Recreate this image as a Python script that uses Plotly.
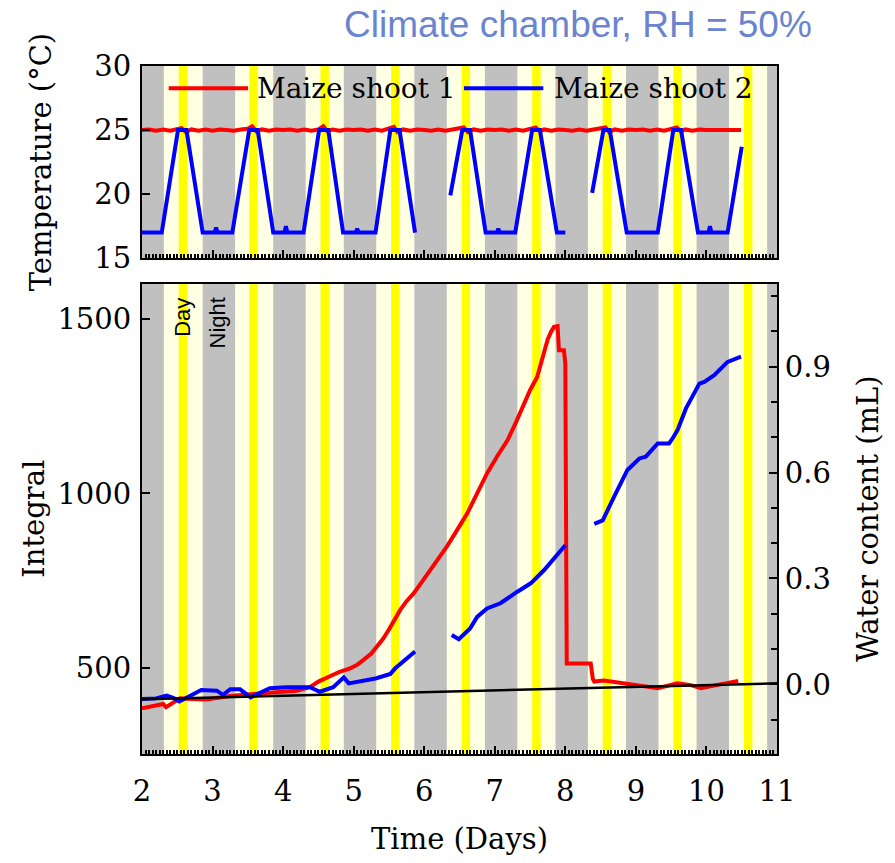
import plotly.graph_objects as go

# ---------------- data ----------------
# Temperature panel (°C)
temp1_x = [2.00, 2.10, 2.20, 2.30, 2.40, 2.50, 2.56, 2.62, 2.70, 2.80, 2.90, 3.00, 3.10, 3.20, 3.30, 3.40, 3.50,
           3.56, 3.62, 3.70, 3.80, 3.90, 4.00, 4.10, 4.20, 4.30, 4.40, 4.50, 4.57, 4.62, 4.70, 4.80, 4.90, 5.00,
           5.10, 5.20, 5.30, 5.40, 5.50, 5.57, 5.62, 5.70, 5.80, 5.90, 6.00, 6.10, 6.20, 6.30, 6.40, 6.50, 6.56,
           6.62, 6.70, 6.80, 6.90, 7.00, 7.10, 7.20, 7.30, 7.40, 7.50, 7.58, 7.64, 7.70, 7.80, 7.90, 8.00, 8.10,
           8.20, 8.30, 8.40, 8.50, 8.57, 8.62, 8.70, 8.80, 8.90, 9.00, 9.10, 9.20, 9.30, 9.40, 9.50, 9.58, 9.64,
           9.70, 9.80, 9.90, 10.00, 10.10, 10.20, 10.30, 10.40, 10.49]
temp1_y = [25.0, 25.05, 24.95, 25.05, 24.95, 25.1, 25.15, 24.85, 25.05, 24.95, 25.05, 24.95, 25.05, 25.0, 24.95,
           25.05, 25.1, 25.3, 24.9, 25.05, 24.95, 25.05, 25.0, 25.05, 24.95, 25.05, 24.95, 25.05, 25.3, 24.95,
           25.05, 24.95, 25.05, 25.0, 25.05, 24.95, 25.05, 24.95, 25.1, 25.25, 24.85, 25.05, 24.95, 25.05, 25.0,
           24.95, 25.05, 24.95, 25.05, 25.1, 25.2, 24.85, 25.05, 24.95, 25.05, 25.0, 25.05, 24.95, 25.05, 24.95,
           25.1, 25.2, 24.9, 25.05, 24.95, 25.05, 25.0, 24.95, 25.05, 24.95, 25.05, 25.1, 25.2, 24.85, 25.05,
           24.95, 25.05, 25.0, 25.05, 24.95, 25.05, 24.95, 25.1, 25.2, 24.9, 25.05, 24.95, 25.05, 25.0, 25.0,
           25.05, 25.0, 25.05, 25.0]

temp2_x = [2.00, 2.28, 2.51, 2.63, 2.86, 3.03, 3.05, 3.07, 3.28, 3.52, 3.64, 3.86, 4.02, 4.04, 4.06, 4.29, 4.51,
           4.64, 4.85, 5.03, 5.05, 5.07, 5.31, 5.52, 5.65, 5.86, 5.87, None, 6.37, 6.54, 6.65, 6.87, 7.03, 7.05,
           7.07, 7.29, 7.53, 7.64, 7.88, 8.00, None, 8.38, 8.54, 8.63, 8.87, 9.31, 9.53, 9.64, 9.88, 10.03, 10.05,
           10.07, 10.30, 10.50]
temp2_y = [17.0, 17.0, 25.0, 25.0, 17.0, 17.0, 17.4, 17.0, 17.0, 25.0, 25.0, 17.0, 17.0, 17.5, 17.0, 17.0, 25.0,
           25.0, 17.0, 17.0, 17.3, 17.0, 17.0, 25.0, 25.0, 17.2, 17.0, None, 19.9, 25.0, 25.0, 17.0, 17.0, 17.3,
           17.0, 17.0, 25.0, 25.0, 17.0, 17.0, None, 20.1, 25.0, 25.0, 17.0, 17.0, 25.0, 25.0, 17.0, 17.0, 17.5,
           17.0, 17.0, 23.7]

# Integral panel
int1_x = [2.00, 2.30, 2.34, 2.54, 2.91, 3.25, 3.72, 4.19, 4.38, 4.50, 4.67, 4.80, 4.95, 5.05, 5.14, 5.25, 5.33,
          5.42, 5.50, 5.58, 5.66, 5.75, 5.85, 5.97, 6.09, 6.20, 6.32, 6.45, 6.61, 6.75, 6.89, 7.03, 7.18, 7.30,
          7.41, 7.50, 7.60, 7.66, 7.70, 7.75, 7.80, 7.84, 7.89, 7.91, 7.98, 8.00, 8.02, 8.36, 8.39, 8.41, 8.55,
          8.83, 9.31, 9.59, 9.78, 9.92, 10.16, 10.45]
int1_y = [386, 398, 389, 414, 411, 421, 429, 436, 446, 462, 478, 490, 500, 510, 524, 542, 562,
          585, 611, 640, 667, 692, 714, 748, 781, 812, 848, 890, 943, 1000, 1057, 1105, 1152, 1203,
          1257, 1295, 1333, 1375, 1409, 1440, 1463, 1476, 1478, 1409, 1409, 1371, 514, 514, 470, 462, 465,
          457, 443, 457, 452, 443, 452, 464]

int2_x = [2.00, 2.20, 2.35, 2.45, 2.53, 2.65, 2.84, 3.06, 3.15, 3.25, 3.39, 3.54, 3.81, 4.05, 4.38, 4.52, 4.71,
          4.86, 4.93, 5.31, 5.52, 5.59, 5.87, None, 6.39, 6.49, 6.65, 6.75, 6.89, 7.08, 7.32, 7.51, 7.70, 7.86,
          8.00, None, 8.41, 8.53, 8.69, 8.88, 9.05, 9.14, 9.31, 9.47, 9.52, 9.59, 9.71, 9.90, 9.97, 10.11, 10.30,
          10.49]
int2_y = [412, 414, 422, 415, 405, 419, 438, 436, 424, 440, 440, 417, 443, 446, 446, 433, 446,
          474, 457, 471, 484, 500, 548, None, 595, 583, 614, 647, 671, 686, 719, 743, 781, 819,
          852, None, 913, 923, 990, 1067, 1100, 1105, 1143, 1143, 1157, 1181, 1243, 1314, 1319, 1338, 1376,
          1391]

# Baseline (water content axis)
base_x = [2.0, 11.0]
base_y = [-0.042, 0.003]

# Light schedule (days)
night_start = [2.00, 2.86, 3.86, 4.86, 5.86, 6.86, 7.86, 8.86, 9.86, 10.86]
night_end = [2.31, 3.32, 4.32, 5.32, 6.32, 7.32, 8.32, 9.32, 10.32, 11.00]
peak_start = [2.52, 3.52, 4.53, 5.53, 6.53, 7.53, 8.53, 9.53, 10.53]
peak_end = [2.64, 3.64, 4.65, 5.65, 6.65, 7.65, 8.65, 9.65, 10.65]

x_ticks = [2, 3, 4, 5, 6, 7, 8, 9, 10, 11]
series_names = ["Maize shoot 1", "Maize shoot 2"]

# ---------------- styles ----------------
RED = "#ff0000"
BLUE = "#0000ff"
GRAY = "#c0c0c0"
LIGHT = "#ffffe3"
YEL = "#ffff00"
SERIF = "DejaVu Serif"
FS = 29
LW = 4

fig = go.Figure()

fig.add_trace(go.Scatter(x=temp1_x, y=temp1_y, mode="lines", name=series_names[0],
                         line=dict(color=RED, width=LW), xaxis="x2", yaxis="y2", showlegend=False))
fig.add_trace(go.Scatter(x=temp2_x, y=temp2_y, mode="lines", name=series_names[1],
                         line=dict(color=BLUE, width=LW), xaxis="x2", yaxis="y2", showlegend=False,
                         connectgaps=False))
fig.add_trace(go.Scatter(x=base_x, y=base_y, mode="lines", line=dict(color="black", width=2.5),
                         xaxis="x", yaxis="y3", showlegend=False))
fig.add_trace(go.Scatter(x=int1_x, y=int1_y, mode="lines", name=series_names[0],
                         line=dict(color=RED, width=LW), xaxis="x", yaxis="y", showlegend=False))
fig.add_trace(go.Scatter(x=int2_x, y=int2_y, mode="lines", name=series_names[1],
                         line=dict(color=BLUE, width=LW), xaxis="x", yaxis="y", showlegend=False,
                         connectgaps=False))

shapes = []
for xr, yr in (("x", "y domain"), ("x2", "y2 domain")):
    shapes.append(dict(type="rect", xref=xr, yref=yr, x0=x_ticks[0], x1=x_ticks[-1], y0=0, y1=1,
                       fillcolor=LIGHT, line=dict(width=0), layer="below"))
    for a, b in zip(night_start, night_end):
        shapes.append(dict(type="rect", xref=xr, yref=yr, x0=a, x1=b, y0=0, y1=1,
                           fillcolor=GRAY, line=dict(width=0), layer="below"))
    for a, b in zip(peak_start, peak_end):
        shapes.append(dict(type="rect", xref=xr, yref=yr, x0=a, x1=b, y0=0, y1=1,
                           fillcolor=YEL, line=dict(width=0), layer="below"))

# manual legend samples
leg_y = 0.9676
shapes.append(dict(type="line", xref="paper", yref="paper", x0=0.042, x1=0.167, y0=leg_y, y1=leg_y,
                   line=dict(color=RED, width=LW)))
shapes.append(dict(type="line", xref="paper", yref="paper", x0=0.507, x1=0.632, y0=leg_y, y1=leg_y,
                   line=dict(color=BLUE, width=LW)))

annotations = [
    dict(text=series_names[0], xref="paper", yref="paper", x=0.178, y=leg_y, xanchor="left",
         yanchor="middle", showarrow=False, font=dict(family=SERIF, size=28, color="black")),
    dict(text=series_names[1], xref="paper", yref="paper", x=0.645, y=leg_y, xanchor="left",
         yanchor="middle", showarrow=False, font=dict(family=SERIF, size=28, color="black")),
    dict(text="Climate chamber, RH = 50%", xref="paper", yref="paper", x=0.687, y=1.0606,
         xanchor="center", yanchor="middle", showarrow=False,
         font=dict(family="Liberation Sans", size=37, color="#6a84d0")),
    dict(text="Day", xref="x", yref="y", x=2.58, y=1566, textangle=-90, xanchor="center",
         yanchor="top", showarrow=False, font=dict(family="Liberation Sans", size=22, color="black")),
    dict(text="Night", xref="x", yref="y", x=3.07, y=1566, textangle=-90, xanchor="center",
         yanchor="top", showarrow=False, font=dict(family="Liberation Sans", size=22, color="black")),
]

axis_common = dict(showline=True, linecolor="black", linewidth=2, mirror=True, ticks="inside",
                   tickcolor="black", tickwidth=1.5, showgrid=False, zeroline=False, automargin=False,
                   tickfont=dict(family=SERIF, size=FS, color="black"))

fig.update_layout(
    width=895, height=863,
    margin=dict(l=142, r=118, t=66, b=109),
    paper_bgcolor="white", plot_bgcolor="white",
    showlegend=False,
    shapes=shapes, annotations=annotations,
    xaxis=dict(axis_common, domain=[0, 1], anchor="y", range=[2, 11], tickmode="array", tickvals=x_ticks,
               ticklen=8, ticklabelstandoff=10,
               minor=dict(dtick=0.05, ticklen=4, ticks="inside", tickcolor="black"),
               title=dict(text="Time (Days)", standoff=22, font=dict(family=SERIF, size=29, color="black"))),
    yaxis=dict(axis_common, domain=[0, 0.6838], anchor="x", range=[255, 1600], tickvals=[500, 1000, 1500],
               ticklen=8, ticklabelstandoff=3,
               title=dict(text="Integral", standoff=4, font=dict(family=SERIF, size=29, color="black"))),
    yaxis3=dict(axis_common, overlaying="y", side="right", anchor="x", range=[-0.197, 1.135],
                tickvals=[0.0, 0.3, 0.6, 0.9], ticktext=["0.0", "0.3", "0.6", "0.9"], ticklen=8, mirror=False,
                minor=dict(tickvals=[-0.1, 0.1, 0.2, 0.4, 0.5, 0.7, 0.8, 1.0, 1.1], ticklen=6,
                           ticks="inside", tickcolor="black"),
                title=dict(text="Water content (mL)", standoff=28,
                           font=dict(family=SERIF, size=29, color="black"))),
    xaxis2=dict(axis_common, domain=[0, 1], anchor="y2", matches="x", range=[2, 11], tickvals=x_ticks,
                showticklabels=False, ticklen=8,
                minor=dict(dtick=0.05, ticklen=4, ticks="inside", tickcolor="black")),
    yaxis2=dict(axis_common, domain=[0.7206, 1], anchor="x2", range=[15, 30], tickvals=[15, 20, 25, 30],
                ticklen=8, ticklabelstandoff=3,
                title=dict(text="Temperature (°C)", standoff=34,
                           font=dict(family=SERIF, size=29, color="black"))),
)

fig.write_html("out.html", config={"displayModeBar": False},
               post_script="document.body.style.margin='0px';")
